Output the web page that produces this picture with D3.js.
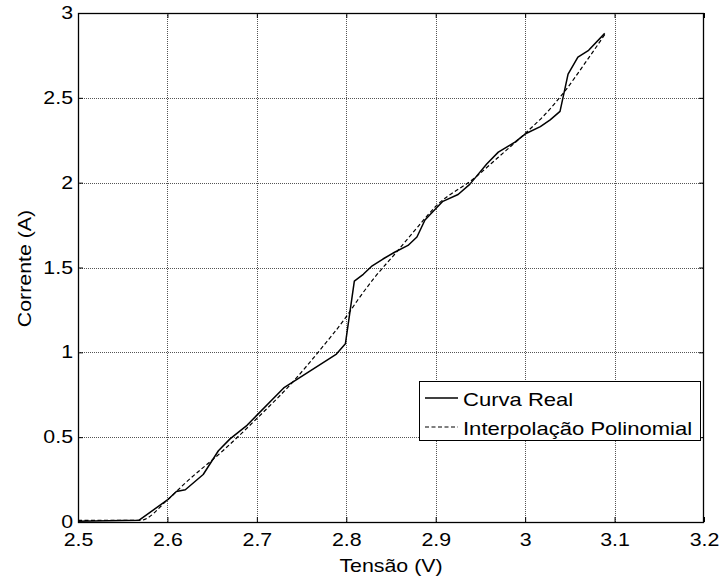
<!DOCTYPE html>
<html>
<head>
<meta charset="utf-8">
<script src="https://cdn.jsdelivr.net/npm/d3@7"></script>
<style>
  html, body { margin: 0; padding: 0; background: #fff; }
  svg { display: block; }
  text { font-family: "Liberation Sans", Arial, Helvetica, sans-serif; fill: #000; }
</style>
</head>
<body>
<svg id="chart" width="721" height="576"></svg>
<script>
// Measured curve: voltage (V) and current (A)
const tensaoReal = [2.50, 2.568, 2.60, 2.61, 2.62, 2.64, 2.657, 2.670, 2.689, 2.730, 2.789, 2.799, 2.809, 2.819, 2.829, 2.841, 2.854, 2.869, 2.879, 2.888, 2.897, 2.908, 2.925, 2.938, 2.946, 2.957, 2.970, 2.989, 3.001, 3.017, 3.028, 3.039, 3.048, 3.059, 3.071, 3.089];
const correnteReal = [0.005, 0.01, 0.13, 0.18, 0.19, 0.28, 0.42, 0.49, 0.57, 0.79, 0.99, 1.05, 1.42, 1.46, 1.51, 1.55, 1.59, 1.63, 1.68, 1.78, 1.83, 1.89, 1.93, 1.99, 2.04, 2.11, 2.18, 2.24, 2.29, 2.33, 2.37, 2.42, 2.64, 2.74, 2.78, 2.88];

// Polynomial fit evaluated along the voltage range
const tensaoPoly = [2.50, 2.57, 2.60, 2.62, 2.662, 2.700, 2.741, 2.770, 2.800, 2.813, 2.830, 2.856, 2.880, 2.900, 2.944, 2.970, 3.000, 3.020, 3.043, 3.069, 3.090];
const correntePoly = [0.01, 0.01, 0.13, 0.23, 0.42, 0.61, 0.83, 1.01, 1.21, 1.31, 1.43, 1.59, 1.74, 1.86, 2.03, 2.15, 2.29, 2.39, 2.53, 2.72, 2.88];

const xTicks = [2.5, 2.6, 2.7, 2.8, 2.9, 3.0, 3.1, 3.2];
const yTicks = [0, 0.5, 1, 1.5, 2, 2.5, 3];
const xTickLabels = ["2.5", "2.6", "2.7", "2.8", "2.9", "3", "3.1", "3.2"];
const yTickLabels = ["0", "0.5", "1", "1.5", "2", "2.5", "3"];

const seriesNames = ["Curva Real", "Interpolação Polinomial"];
const xTitle = "Tensão (V)";
const yTitle = "Corrente (A)";

(function () {
  const svg = d3.select("#chart");
  const pL = 78, pR = 704, pT = 13, pB = 522;
  const FONT = 17.5, STRETCH = 1.22;

  const x = d3.scaleLinear().domain([2.5, 3.2]).range([pL, pR]);
  const y = d3.scaleLinear().domain([0, 3]).range([pB, pT]);

  // grid
  const grid = svg.append("g").attr("stroke", "#555").attr("stroke-width", 1)
    .attr("stroke-dasharray", "1,1").attr("shape-rendering", "crispEdges");
  grid.selectAll(".gx").data(xTicks.slice(1, -1)).join("line")
    .attr("x1", d => Math.round(x(d)) + 0.5).attr("x2", d => Math.round(x(d)) + 0.5)
    .attr("y1", pT).attr("y2", pB);
  grid.selectAll(".gy").data(yTicks.slice(1, -1)).join("line")
    .attr("y1", d => Math.round(y(d)) + 0.5).attr("y2", d => Math.round(y(d)) + 0.5)
    .attr("x1", pL).attr("x2", pR);

  // axes with inward ticks on all four sides
  function styleAxis(g) {
    g.select(".domain").remove();
    g.selectAll(".tick line").attr("stroke", "#000");
    g.selectAll(".tick text").attr("font-size", FONT).attr("font-family", null)
      .attr("transform", `scale(${STRETCH},1)`);
  }
  const xFmt = (d, i) => xTickLabels[i];
  const yFmt = (d, i) => yTickLabels[i];

  svg.append("g").attr("transform", `translate(0,${pB})`)
    .call(d3.axisBottom(x).tickValues(xTicks).tickFormat(xFmt).tickSizeInner(-5).tickSizeOuter(0).tickPadding(12))
    .call(styleAxis);
  svg.append("g").attr("transform", `translate(0,${pT})`)
    .call(d3.axisTop(x).tickValues(xTicks).tickFormat("").tickSizeInner(-5).tickSizeOuter(0))
    .call(styleAxis);
  svg.append("g").attr("transform", `translate(${pL},0)`)
    .call(d3.axisLeft(y).tickValues(yTicks).tickFormat(yFmt).tickSizeInner(-5).tickSizeOuter(0).tickPadding(4.1))
    .call(styleAxis);
  svg.append("g").attr("transform", `translate(${pR},0)`)
    .call(d3.axisRight(y).tickValues(yTicks).tickFormat("").tickSizeInner(-5).tickSizeOuter(0))
    .call(styleAxis);

  // frame
  svg.append("rect").attr("x", pL + 0.5).attr("y", pT + 0.5)
    .attr("width", pR - pL - 1).attr("height", pB - pT)
    .attr("fill", "none").attr("stroke", "#000").attr("stroke-width", 1.3);

  // curves
  const realPts = tensaoReal.map((v, i) => [v, correnteReal[i]]);
  const polyPts = tensaoPoly.map((v, i) => [v, correntePoly[i]]);
  const lineLin = d3.line().x(d => x(d[0])).y(d => y(d[1]));
  const lineSmooth = d3.line().x(d => x(d[0])).y(d => y(d[1])).curve(d3.curveMonotoneX);

  svg.append("path").datum(realPts).attr("d", lineLin)
    .attr("fill", "none").attr("stroke", "#000").attr("stroke-width", 1.5).attr("stroke-linejoin", "round");
  svg.append("path").datum(polyPts).attr("d", lineSmooth)
    .attr("fill", "none").attr("stroke", "#000").attr("stroke-width", 1.2).attr("stroke-dasharray", "4,2.5");

  // horizontally stretched text
  function label(px, py, txt, anchor, rot) {
    const g = svg.append("g").attr("transform", `translate(${px},${py})` + (rot ? ` rotate(${rot})` : ""));
    g.append("text").attr("transform", `scale(${STRETCH},1)`)
      .attr("text-anchor", anchor).attr("font-size", FONT).text(txt);
  }

  label((pL + pR) / 2, 572, xTitle, "middle");
  label(31, (pT + pB) / 2 + 1, yTitle, "middle", -90);

  // legend
  const lg = svg.append("g");
  lg.append("rect").attr("x", 419.5).attr("y", 381.5).attr("width", 281).attr("height", 59)
    .attr("fill", "#fff").attr("stroke", "#000").attr("stroke-width", 1);
  const legendRows = [
    { name: seriesNames[0], dash: null, w: 1.5, y: 398 },
    { name: seriesNames[1], dash: "4,2.5", w: 1.2, y: 427 }
  ];
  legendRows.forEach(r => {
    lg.append("line").attr("x1", 425).attr("x2", 458).attr("y1", r.y).attr("y2", r.y)
      .attr("stroke", "#000").attr("stroke-width", r.w).attr("stroke-dasharray", r.dash);
    const g = lg.append("g").attr("transform", `translate(463,${r.y + 8})`);
    g.append("text").attr("transform", `scale(1.26,1)`).attr("font-size", FONT).text(r.name);
  });
})();
</script>
</body>
</html>
